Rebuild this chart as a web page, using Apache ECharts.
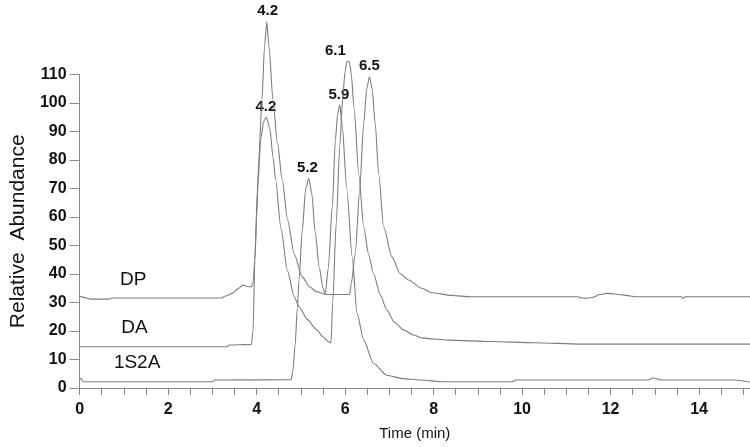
<!DOCTYPE html>
<html>
<head>
<meta charset="utf-8">
<script src="https://cdn.jsdelivr.net/npm/echarts@6/dist/echarts.min.js"></script>
<style>html,body{margin:0;padding:0;background:#fff}#c{width:750px;height:447px}</style>
</head>
<body>
<div id="c"></div>
<script>
// ---- data ----
var dpT = [0, 0.1, 0.25, 0.65, 0.75, 3.2, 3.3, 3.45, 3.57, 3.69, 3.8, 3.88, 3.92, 3.96, 4.0, 4.05, 4.12, 4.18, 4.23, 4.28, 4.37, 4.47, 4.58, 4.7, 4.85, 5.03, 5.2, 5.35, 5.55, 6.1, 6.14, 6.23, 6.33, 6.42, 6.49, 6.55, 6.61, 6.68, 6.76, 6.87, 7.06, 7.24, 7.43, 7.73, 7.96, 8.4, 8.85, 11.25, 11.35, 11.48, 11.6, 11.75, 11.92, 12.1, 12.29, 12.6, 13.6, 13.64, 13.68, 15.15];
var dpV = [32.2, 31.8, 31.2, 31.2, 31.6, 31.6, 32.3, 33.2, 34.7, 36.1, 35.6, 35.5, 36.8, 45, 60, 80, 101, 120, 128.5, 120, 101, 86, 73, 59, 47, 39, 35.5, 33.8, 32.8, 32.8, 36.7, 47.3, 69.5, 92.9, 105, 109.2, 105, 92.9, 75, 56.6, 46, 40.2, 37.9, 35, 33.4, 32.5, 32, 32, 31.6, 31.5, 31.8, 32.8, 33.2, 33, 32.6, 32, 32, 31.5, 32, 32];

var daT = [0, 3.33, 3.38, 3.88, 3.92, 3.96, 4.02, 4.1, 4.16, 4.22, 4.3, 4.37, 4.43, 4.55, 4.7, 4.85, 4.96, 5.15, 5.35, 5.5, 5.62, 5.68, 5.72, 5.8, 5.88, 5.95, 6.0, 6.04, 6.1, 6.14, 6.2, 6.31, 6.42, 6.53, 6.64, 6.8, 6.94, 7.12, 7.32, 7.55, 7.73, 8.0, 8.33, 9.3, 10.28, 11.33, 15.15];
var daV = [14.5, 14.5, 15.1, 15.3, 20, 45, 70, 88, 93.5, 95, 91, 81, 73, 56, 41, 32, 28.5, 24, 20.5, 18, 16.3, 15.8, 30, 58, 85, 103, 111, 114.5, 114.5, 110, 98.7, 75, 56.6, 47, 40.2, 32.5, 27.4, 23, 20.4, 18.6, 17.6, 17.2, 16.8, 16.3, 15.9, 15.4, 15.4];

var s1T = [0, 0.03, 0.08, 3.0, 3.05, 4.78, 4.82, 4.87, 4.92, 4.96, 5.03, 5.11, 5.18, 5.25, 5.32, 5.42, 5.5, 5.55, 5.62, 5.71, 5.78, 5.83, 5.88, 5.93, 6.04, 6.16, 6.27, 6.42, 6.64, 6.94, 7.3, 7.7, 8.2, 9.8, 9.85, 12.85, 12.95, 13.05, 13.15, 14.8, 15.15];
var s1V = [2.8, 3.4, 2.2, 2.2, 2.8, 2.9, 6, 15, 28, 38, 55, 70, 73.5, 68, 55, 42, 35, 33, 42, 63.6, 87, 96, 99.3, 92.9, 69.5, 46, 26.2, 16.8, 8.7, 4.5, 3.3, 2.8, 2.2, 2.2, 2.8, 2.8, 3.5, 3.2, 2.8, 2.8, 2.0];

var peakT = [4.25, 4.21, 5.15, 5.86, 5.78, 6.55];
var peakV = [128.5, 95, 73.5, 99.3, 114.5, 109.2];
var peakText = ['4.2', '4.2', '5.2', '5.9', '6.1', '6.5'];

var nameT = [1.21, 1.24, 1.3];
var nameV = [37.9, 21.0, 8.8];
var nameText = ['DP', 'DA', '1S2A'];

var xLabelTicks = [0, 2, 4, 6, 8, 10, 12, 14];
var xMinorTicks = [];
for (var i = 0; i <= 30; i++) xMinorTicks.push(i * 0.5);

function zip(t, v) { return t.map(function (x, i) { return [x, v[i]]; }); }

var lineColor = '#7d7d7d';
var txt = '#111111';
function lineSeries(name, t, v, extra) {
  var s = {
    name: name, type: 'line', data: zip(t, v), showSymbol: false, symbol: 'none',
    smooth: 0.25, smoothMonotone: 'x', clip: false,
    lineStyle: { color: lineColor, width: 1.1 }, silent: true, animation: false
  };
  if (extra) for (var k in extra) s[k] = extra[k];
  return s;
}

var chart = echarts.init(document.getElementById('c'), null, { renderer: 'canvas' });
chart.setOption({
  animation: false,
  backgroundColor: '#ffffff',
  grid: { left: 76, right: 0, top: 74.5, bottom: 59, containLabel: false },
  xAxis: {
    type: 'value', min: 0, max: 15.15,
    name: 'Time (min)', nameLocation: 'middle', nameGap: 38,
    nameTextStyle: { fontFamily: '"Liberation Sans Narrow", "Liberation Sans", Arial, sans-serif', fontSize: 15, color: txt },
    axisLine: { lineStyle: { color: '#8a8a8a', width: 1 } },
    axisTick: { show: true, customValues: xMinorTicks, length: 7, inside: false, lineStyle: { color: '#8a8a8a' } },
    axisLabel: { customValues: xLabelTicks, fontFamily: '"Liberation Sans", Arial, sans-serif', fontWeight: 'bold', fontSize: 16, color: txt, margin: 14 },
    splitLine: { show: false }
  },
  yAxis: {
    type: 'value', min: 0, max: 110, interval: 10,
    name: 'Relative  Abundance', nameLocation: 'middle', nameGap: 50, nameRotate: 90,
    nameTextStyle: { fontFamily: '"Liberation Sans", Arial, sans-serif', fontSize: 21, color: txt },
    axisLine: { show: true, lineStyle: { color: '#8a8a8a', width: 1 } },
    axisTick: { show: true, length: 10, lineStyle: { color: '#8a8a8a' } },
    axisLabel: { fontFamily: '"Liberation Sans", Arial, sans-serif', fontWeight: 'bold', fontSize: 16, color: txt, margin: 13 },
    splitLine: { show: false }
  },
  series: [
    lineSeries('DP', dpT, dpV),
    lineSeries('DA', daT, daV, {
      markLine: {
        silent: true, symbol: 'none', label: { show: false },
        lineStyle: { color: lineColor, width: 1.1, type: 'solid' },
        data: [[{ coord: [peakT[4] + 0.04, peakV[4]] }, { coord: [6.04, peakV[4]] }]]
      }
    }),
    lineSeries('1S2A', s1T, s1V),
    {
      name: 'peaks', type: 'scatter', symbolSize: 0, clip: false, silent: true,
      itemStyle: { opacity: 1 },
      data: peakT.map(function (t, i) { return { value: [t, peakV[i]], label: { formatter: peakText[i] } }; }),
      label: { show: true, position: 'top', distance: 3, fontFamily: '"Liberation Sans", Arial, sans-serif', fontWeight: 'bold', fontSize: 15, color: txt }
    },
    {
      name: 'names', type: 'scatter', symbolSize: 0, clip: false, silent: true,
      itemStyle: { opacity: 1 },
      data: nameT.map(function (t, i) { return { value: [t, nameV[i]], label: { formatter: nameText[i] } }; }),
      label: { show: true, position: 'inside', fontFamily: '"Liberation Sans", Arial, sans-serif', fontSize: 19, color: txt }
    }
  ]
});
</script>
</body>
</html>
